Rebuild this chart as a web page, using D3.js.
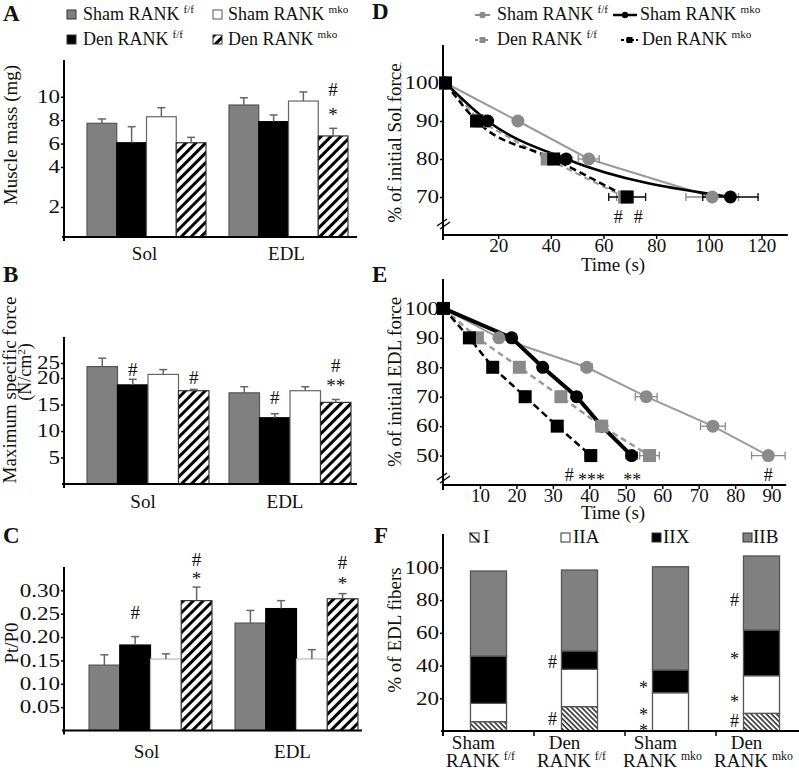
<!DOCTYPE html>
<html><head><meta charset="utf-8">
<script src="https://cdn.jsdelivr.net/npm/d3@7"></script>
<style>
body{margin:0;background:#fff}
svg{display:block}
text{font-family:"Liberation Serif","Times New Roman",serif;fill:#111}
</style>
</head><body>
<svg id="c" width="799" height="770"></svg>
<script>
// ---------------- DATA ----------------
const groups = ["Sham RANK f/f","Den RANK f/f","Sham RANK mko","Den RANK mko"];
const groupBase = ["Sham","Den","Sham","Den"];
const groupSup = ["f/f","f/f","mko","mko"];
const muscles = ["Sol","EDL"];

// A: muscle mass (mg)
const massTicks = [2,4,6,8,10];
const massSol = [7.73,6.07,8.29,6.07];
const massSolErr = [0.37,1.37,0.77,0.46];
const massEDL = [9.29,7.87,9.63,6.65];
const massEDLErr = [0.62,0.57,0.77,0.65];
const massNotes = [{m:"EDL",g:3,v:10.6,t:"#"},{m:"EDL",g:3,v:8.9,t:"*"}];

// B: maximum specific force (N/cm2)
const forceTicks = [5,10,15,20,25];
const forceSol = [23.8,18.7,21.2,17.6];
const forceSolErr = [2.5,1.05,1.6,0.25];
const forceEDL = [17.2,12.5,17.6,15.4];
const forceEDLErr = [1.15,0.75,0.75,0.55];
const forceNotes = [{m:"Sol",g:1,v:23.0,t:"#"},{m:"Sol",g:3,v:20.3,t:"#"},{m:"EDL",g:1,v:16.4,t:"#"},{m:"EDL",g:3,v:24.3,t:"#"},{m:"EDL",g:3,v:19.6,t:"**"}];

// C: Pt/P0
const ptTicks = [0.05,0.10,0.15,0.20,0.25,0.30];
const ptSol = [0.140,0.183,0.153,0.278];
const ptSolErr = [0.022,0.018,0.011,0.029];
const ptEDL = [0.230,0.261,0.153,0.282];
const ptEDLErr = [0.027,0.017,0.020,0.011];
const ptNotes = [{m:"Sol",g:1,v:0.252,t:"#"},{m:"Sol",g:3,v:0.366,t:"#"},{m:"Sol",g:3,v:0.337,t:"*"},{m:"EDL",g:3,v:0.359,t:"#"},{m:"EDL",g:3,v:0.326,t:"*"}];

// D: Sol fatigue (% of initial force vs time, s)
const solLevels = [100,90,80,70];
const solShamFF = [0,27.5,54.4,101.3], solShamFFErr = [0,1.5,4,10];
const solShamMKO = [0,16,45.8,108.2], solShamMKOErr = [0,1,1.5,10.5];
const solDenFF = [0,13,38.6,68], solDenFFErr = [0,1,2,3];
const solDenMKO = [0,11.8,41.1,69], solDenMKOErr = [0,1,1.5,7];
const solXTicks = [20,40,60,80,100,120];
const solYTicks = [70,80,90,100];
const solNotes = [{t:65.6,v:64.7,s:"#"},{t:73.2,v:64.7,s:"#"}];

// E: EDL fatigue
const edlLevels = [100,90,80,70,60,50];
const edlShamFF = [0,15.2,39.3,55.6,73.9,89.1], edlShamFFErr = [0,1,1.5,3,3.4,4.6];
const edlShamMKO = [0,18.7,27.2,36.5,43.4,51.6], edlShamMKOErr = [0,0.5,0.8,1,1,1.5];
const edlDenFF = [0,9.3,20.8,32.2,43.4,56.5], edlDenFFErr = [0,0.5,1,1,1.5,2.7];
const edlDenMKO = [0,7.1,13.5,22.4,31.2,40.4], edlDenMKOErr = [0,0.5,0.5,1,1,1.5];
const edlXTicks = [10,20,30,40,50,60,70,80,90];
const edlYTicks = [50,60,70,80,90,100];
const edlNotes = [{t:34.5,v:43.6,s:"#"},{t:40.6,v:43.6,s:"***"},{t:51.8,v:43.6,s:"**"},{t:89.1,v:43.6,s:"#"}];

// F: fiber types (% of EDL fibers)
const fiberTypes = ["I","IIA","IIX","IIB"];
const fiberI = [5.7,14.9,0,10.8];
const fiberIIA = [11.2,22.8,23.4,23.0];
const fiberIIX = [28.9,11.2,13.9,27.9];
const fiberIIB = [52.0,49.5,63.1,45.3];
const fiberTicks = [20,40,60,80,100];
const fiberNotes = [{g:1,v:42.4,t:"#"},{g:1,v:7.8,t:"#"},{g:2,v:29.2,t:"*"},{g:2,v:12.8,t:"*"},{g:2,v:3.4,t:"*"},{g:3,v:80.5,t:"#"},{g:3,v:47.1,t:"*"},{g:3,v:21,t:"*"},{g:3,v:6.3,t:"#"}];

// ---------------- STYLE ----------------
const svg = d3.select("#c");
const defs = svg.append("defs");
const ph = defs.append("pattern").attr("id","hatch").attr("patternUnits","userSpaceOnUse")
  .attr("width",7).attr("height",7).attr("patternTransform","rotate(45)");
ph.append("rect").attr("width",7).attr("height",7).attr("fill","#fff");
ph.append("line").attr("x1",1.5).attr("x2",1.5).attr("y1",0).attr("y2",7).attr("stroke","#000").attr("stroke-width",3);
const pi = defs.append("pattern").attr("id","hatchI").attr("patternUnits","userSpaceOnUse")
  .attr("width",3.6).attr("height",3.6).attr("patternTransform","rotate(-45)");
pi.append("rect").attr("width",3.6).attr("height",3.6).attr("fill","#fff");
pi.append("line").attr("x1",1).attr("x2",1).attr("y1",0).attr("y2",3.6).attr("stroke","#222").attr("stroke-width",1.5);

const barFill = ["#808080","#000","#fff","url(#hatch)"];
const barStroke = ["#555","#000","#666","#333"];
const AX = 64; // left axis x for A-C

function stretch(sel,f){
  sel.each(function(){
    const L=this.getComputedTextLength();
    d3.select(this).attr("textLength",L*f).attr("lengthAdjust","spacingAndGlyphs");
  });
}
function styleYAxis(g){
  g.select(".domain").remove();
  g.selectAll(".tick line").attr("stroke","#000").attr("stroke-width",1.5);
  g.selectAll(".tick text").attr("font-size",18).attr("font-family","Liberation Serif").attr("fill","#111");
  stretch(g.selectAll(".tick text"),1.28);
}
function noteDy(t){return t.includes("*")?"0.62em":"0.35em";}
function supText(g,x,y,base,sup,size,anchor){
  const t=g.append("text").attr("x",x).attr("y",y).attr("font-size",size).attr("text-anchor",anchor||"start");
  t.append("tspan").text(base);
  t.append("tspan").attr("dx",4).attr("dy",-7).attr("font-size",size*0.62).text(sup);
  return t;
}

// ---------------- BAR PANELS A-C ----------------
function barPanel(o){
  const g = svg.append("g");
  const y = d3.scaleLinear().domain(o.yDomain).range(o.yRange);
  const x0 = d3.scaleBand().domain(muscles).range([o.xStart,o.xStart+2*o.step]).paddingInner(o.pad).paddingOuter(o.pad/2);
  const x1 = d3.scaleBand().domain(groups).range([0,x0.bandwidth()]);
  const rows=[];
  muscles.forEach((m,i)=>groups.forEach((gr,j)=>rows.push({m,j,gr,v:o.means[i][j],e:o.errs[i][j]})));
  const cx = d=>x0(d.m)+x1(d.gr)+x1.bandwidth()/2;
  g.selectAll("rect.bar").data(rows).join("rect").attr("class","bar")
    .attr("x",d=>x0(d.m)+x1(d.gr)).attr("width",x1.bandwidth())
    .attr("y",d=>y(d.v)).attr("height",d=>y(0)-y(d.v))
    .attr("fill",d=>barFill[d.j]).attr("stroke",d=>o.whiteStroke&&d.j===2?o.whiteStroke:barStroke[d.j]).attr("stroke-width",1.2);
  g.selectAll("line.err").data(rows).join("line").attr("class","err")
    .attr("x1",cx).attr("x2",cx).attr("y1",d=>y(d.v)).attr("y2",d=>y(d.v+d.e)).attr("stroke","#666").attr("stroke-width",1.5);
  g.selectAll("line.cap").data(rows).join("line").attr("class","cap")
    .attr("x1",d=>cx(d)-4).attr("x2",d=>cx(d)+4).attr("y1",d=>y(d.v+d.e)).attr("y2",d=>y(d.v+d.e)).attr("stroke","#666").attr("stroke-width",1.5);
  // axes
  const ya = g.append("g").attr("transform",`translate(${AX},0)`).call(d3.axisLeft(y).tickValues(o.ticks).tickSize(3).tickPadding(1).tickFormat(o.fmt||d3.format("d")));
  styleYAxis(ya);
  g.append("line").attr("x1",AX).attr("x2",AX).attr("y1",o.yRange[o.yRange.length-1]).attr("y2",y(0)+4).attr("stroke","#000").attr("stroke-width",2);
  g.append("line").attr("x1",AX-2).attr("x2",o.axisEnd).attr("y1",y(0)).attr("y2",y(0)).attr("stroke","#000").attr("stroke-width",2);
  g.selectAll("text.xl").data(muscles).join("text").attr("class","xl")
    .attr("x",d=>x0(d)+x0.bandwidth()/2+o.labShift).attr("y",o.labY).attr("text-anchor","middle").attr("font-size",19).text(d=>d);
  g.selectAll("text.note").data(o.notes).join("text").attr("class","note")
    .attr("x",d=>x0(d.m)+x1(groups[d.g])+x1.bandwidth()/2).attr("y",d=>y(d.v)).attr("dy",d=>noteDy(d.t))
    .attr("text-anchor","middle").attr("font-size",19).text(d=>d.t);
  return g;
}

barPanel({yDomain:[0,2,4,10,13.1],yRange:[237,207,167,96.7,60],ticks:massTicks,means:[massSol,massEDL],errs:[massSolErr,massEDLErr],
  xStart:75.5,step:142,pad:0.162,axisEnd:357,labY:260,labShift:-2,notes:massNotes});
barPanel({yDomain:[0,20,25,32],yRange:[484,378,363,337],ticks:forceTicks,means:[forceSol,forceEDL],errs:[forceSolErr,forceEDLErr],
  xStart:77,step:142,pad:0.141,axisEnd:357,labY:508,labShift:-5,notes:forceNotes});
barPanel({yDomain:[0,0.35],yRange:[730.5,567],ticks:ptTicks,means:[ptSol,ptEDL],errs:[ptSolErr,ptEDLErr],
  xStart:77.5,step:146,pad:0.158,axisEnd:362,labY:758,labShift:-4,notes:ptNotes,fmt:d3.format(".2f"),whiteStroke:"#bbb"});

// y labels A-C
function yLabel(x,y,txt,size){
  return svg.append("text").attr("transform",`translate(${x},${y}) rotate(-90)`).attr("text-anchor","middle").attr("font-size",size||19).text(txt);
}
yLabel(17,135,"Muscle mass (mg)");
yLabel(16,390,"Maximum specific force");
const nl = svg.append("text").attr("transform","translate(31,372) rotate(-90)").attr("text-anchor","middle").attr("font-size",18);
nl.append("tspan").text("(N/cm");
nl.append("tspan").attr("dy",-6).attr("font-size",11).text("2");
nl.append("tspan").attr("dy",6).text(")");
yLabel(18,643,"Pt/P0");

// legend A
const legA = svg.append("g");
const legPos = [[67,10,83,20],[67,35,83,45],[213,10,228,20],[213,35,228,45]];
groups.forEach((gr,j)=>{
  const p=legPos[j];
  legA.append("rect").attr("x",p[0]).attr("y",p[1]).attr("width",9).attr("height",9).attr("fill",barFill[j]).attr("stroke",j===2?"#555":"#333").attr("stroke-width",1);
  supText(legA,p[2],p[3],groupBase[j]+" RANK",groupSup[j],18);
});

// ---------------- LINE PANELS D, E ----------------
function linePanel(o){
  const g = svg.append("g");
  const x = d3.scaleLinear().domain(o.xDomain).range(o.xRange);
  const y = d3.scaleLinear().domain(o.yDomain).range(o.yRange);
  const yAxX = 443;
  // axes
  const ya = g.append("g").attr("transform",`translate(${yAxX},0)`).call(d3.axisLeft(y).tickValues(o.yTicks).tickSize(3).tickPadding(1));
  styleYAxis(ya);
  g.append("line").attr("x1",yAxX).attr("x2",yAxX).attr("y1",o.yRange[1]).attr("y2",o.yRange[0]+5).attr("stroke","#000").attr("stroke-width",2);
  g.append("line").attr("x1",yAxX).attr("x2",o.xRange[1]).attr("y1",o.yRange[0]).attr("y2",o.yRange[0]).attr("stroke","#000").attr("stroke-width",2);
  const xa = g.append("g").attr("transform",`translate(0,${o.yRange[0]})`).call(d3.axisBottom(x).tickValues(o.xTicks).tickSize(4).tickPadding(0));
  xa.select(".domain").remove();
  xa.selectAll(".tick line").attr("stroke","#000").attr("stroke-width",1.5);
  xa.selectAll(".tick text").attr("font-size",19).attr("font-family","Liberation Serif").attr("fill","#111");
  // break mark
  const by = o.breakY;
  [[-6,5,4,-2],[-3,8,7,1]].forEach(b=>{
    g.append("line").attr("x1",yAxX+b[0]).attr("y1",by+b[1]).attr("x2",yAxX+b[2]).attr("y2",by+b[3]).attr("stroke","#000").attr("stroke-width",1.3);
  });
  g.append("text").attr("x",613).attr("y",o.titleY).attr("text-anchor","middle").attr("font-size",19).text("Time (s)");
  // dotted frame edge
  g.append("line").attr("x1",401).attr("x2",401).attr("y1",o.dotted[0]).attr("y2",o.dotted[1]).attr("stroke","#aaa").attr("stroke-dasharray","2,2");
  // series
  o.series.forEach(s=>{
    const pts = s.t.map((t,i)=>({t,v:o.levels[i],e:s.err[i]}));
    const line = d3.line().x(d=>x(d.t)).y(d=>y(d.v)).curve(s.curve||d3.curveLinear);
    g.append("path").attr("d",line(pts)).attr("fill","none").attr("stroke",s.lineColor).attr("stroke-width",s.width).attr("stroke-dasharray",s.dash||null);
    s._pts=pts;
  });
  o.series.forEach(s=>{
    s._pts.filter(d=>d.e>0.6).forEach(d=>{
      g.append("line").attr("x1",x(d.t-d.e)).attr("x2",x(d.t+d.e)).attr("y1",y(d.v)).attr("y2",y(d.v)).attr("stroke",s.color).attr("stroke-width",1.3);
      [d.t-d.e,d.t+d.e].forEach(c=>g.append("line").attr("x1",x(c)).attr("x2",x(c)).attr("y1",y(d.v)-4).attr("y2",y(d.v)+4).attr("stroke",s.color).attr("stroke-width",1.3));
    });
  });
  o.series.forEach(s=>{
    s._pts.forEach(d=>{
      if(s.marker==="circle") g.append("circle").attr("cx",x(d.t)).attr("cy",y(d.v)).attr("r",6.5).attr("fill",s.color);
      else g.append("rect").attr("x",x(d.t)-6.5).attr("y",y(d.v)-6.5).attr("width",13).attr("height",13).attr("fill",s.color);
    });
  });
  g.selectAll("text.note").data(o.notes).join("text").attr("class","note")
    .attr("x",d=>x(d.t)).attr("y",d=>y(d.v)).attr("dy",d=>noteDy(d.s)).attr("text-anchor","middle").attr("font-size",18).text(d=>d.s);
}
const GR="#8a8a8a", GL="#9a9a9a";
linePanel({xDomain:[0,130],xRange:[445.5,787.8],yDomain:[60,110],yRange:[235,45],xTicks:solXTicks,yTicks:solYTicks,levels:solLevels,
  breakY:221,titleY:271,dotted:[62,222],notes:solNotes,
  series:[
    {t:solShamFF,err:solShamFFErr,color:GR,lineColor:GL,width:2,marker:"circle"},
    {t:solDenFF,err:solDenFFErr,color:GR,lineColor:GL,width:2,dash:"6,4",marker:"square"},
    {t:solShamMKO,err:solShamMKOErr,color:"#000",lineColor:"#000",width:2.5,marker:"circle",curve:d3.curveMonotoneX},
    {t:solDenMKO,err:solDenMKOErr,color:"#000",lineColor:"#000",width:2.5,dash:"7,4",marker:"square",curve:d3.curveMonotoneX}
  ]});
linePanel({xDomain:[0,94],xRange:[443.5,786.2],yDomain:[40,110],yRange:[485,279],xTicks:edlXTicks,yTicks:edlYTicks,levels:edlLevels,
  breakY:475,titleY:519,dotted:[300,468],notes:edlNotes,
  series:[
    {t:edlShamFF,err:edlShamFFErr,color:GR,lineColor:GL,width:2,marker:"circle"},
    {t:edlShamMKO,err:edlShamMKOErr,color:"#000",lineColor:"#000",width:4,marker:"circle"},
    {t:edlDenFF,err:edlDenFFErr,color:GR,lineColor:GL,width:2.5,dash:"6,4",marker:"square"},
    {t:edlDenMKO,err:edlDenMKOErr,color:"#000",lineColor:"#000",width:2.5,dash:"7,4",marker:"square"}
  ]});

// legend D
const legD = svg.append("g");
const legDItems = [
  {x1:475,x2:490,y:15,tx:497,ty:20,color:GR,dash:null,m:"c",w:2},
  {x1:475,x2:490,y:40,tx:497,ty:45,color:GR,dash:"3,2",m:"s",w:2},
  {x1:613,x2:637,y:15,tx:640,ty:20,color:"#000",dash:null,m:"c",w:2.5},
  {x1:621,x2:638,y:40,tx:642,ty:45,color:"#000",dash:"3,2",m:"s",w:2}
];
legDItems.forEach((it,j)=>{
  legD.append("line").attr("x1",it.x1).attr("x2",it.x2).attr("y1",it.y).attr("y2",it.y).attr("stroke",it.color).attr("stroke-width",it.w).attr("stroke-dasharray",it.dash);
  const mx=(it.x1+it.x2)/2;
  if(it.m==="c") legD.append("circle").attr("cx",mx).attr("cy",it.y).attr("r",3.2).attr("fill",it.color);
  else legD.append("rect").attr("x",mx-3).attr("y",it.y-3).attr("width",6).attr("height",6).attr("fill",it.color);
  supText(legD,it.tx,it.ty,groupBase[j]+" RANK",groupSup[j],18);
});

// y labels D-F
yLabel(401,143,"% of initial Sol force");
yLabel(401,382,"% of initial EDL force");
yLabel(401,630,"% of EDL fibers");

// ---------------- F: stacked bars ----------------
(function(){
  const g = svg.append("g");
  const y = d3.scaleLinear().domain([0,120]).range([731,534.7]);
  const x = d3.scaleBand().domain(groups).range([443,807]).paddingInner(0.604).paddingOuter(0.302);
  const stackRows = groups.map((gr,i)=>({gr,I:fiberI[i],IIA:fiberIIA[i],IIX:fiberIIX[i],IIB:fiberIIB[i]}));
  const series = d3.stack().keys(fiberTypes)(stackRows);
  const fFill = {I:"url(#hatchI)",IIA:"#fff",IIX:"#000",IIB:"#808080"};
  series.forEach(s=>{
    g.selectAll(null).data(s).join("rect")
      .attr("x",d=>x(d.data.gr)).attr("width",x.bandwidth())
      .attr("y",d=>y(d[1])).attr("height",d=>y(d[0])-y(d[1]))
      .attr("fill",fFill[s.key]).attr("stroke","#555").attr("stroke-width",1.3);
  });
  const ya = g.append("g").attr("transform","translate(443,0)").call(d3.axisLeft(y).tickValues(fiberTicks).tickSize(3).tickPadding(1));
  styleYAxis(ya);
  g.append("line").attr("x1",443).attr("x2",443).attr("y1",534).attr("y2",736).attr("stroke","#000").attr("stroke-width",2);
  g.append("line").attr("x1",441).attr("x2",799).attr("y1",731).attr("y2",731).attr("stroke","#000").attr("stroke-width",2);
  groups.forEach((gr,i)=>{
    const bx = x(gr)-x.step()*x.paddingInner()/2 + x.bandwidth()+x.step()*x.paddingInner();
    if(i<3) g.append("line").attr("x1",bx).attr("x2",bx).attr("y1",731).attr("y2",736).attr("stroke","#000").attr("stroke-width",1.5);
    const c = x(gr)+x.bandwidth()/2;
    g.append("text").attr("x",c-15).attr("y",749).attr("text-anchor","middle").attr("font-size",19).text(groupBase[i]);
    supText(g,c-8,767,"RANK",groupSup[i],19,"middle");
  });
  g.selectAll("text.note").data(fiberNotes).join("text").attr("class","note")
    .attr("x",d=>x(groups[d.g])-9).attr("y",d=>y(d.v)).attr("dy",d=>noteDy(d.t)).attr("text-anchor","middle").attr("font-size",18).text(d=>d.t);
  // legend
  const lx=[[470,483],[561,573],[652,663],[743,753]];
  fiberTypes.forEach((k,i)=>{
    g.append("rect").attr("x",lx[i][0]).attr("y",533).attr("width",9).attr("height",9).attr("fill",k==="I"?"#fff":fFill[k]).attr("stroke","#333").attr("stroke-width",1);
    if(k==="I") g.append("line").attr("x1",lx[i][0]).attr("y1",533).attr("x2",lx[i][0]+9).attr("y2",542).attr("stroke","#000").attr("stroke-width",1.5);
    g.append("text").attr("x",lx[i][1]).attr("y",543).attr("font-size",19).text(k);
  });
})();

// panel letters
[["A",3,21],["B",3,282],["C",3,543],["D",372,19],["E",372,282],["F",374,543]].forEach(p=>{
  svg.append("text").attr("x",p[1]).attr("y",p[2]).attr("font-size",23).attr("font-weight","bold").text(p[0]);
});
</script>
</body></html>
